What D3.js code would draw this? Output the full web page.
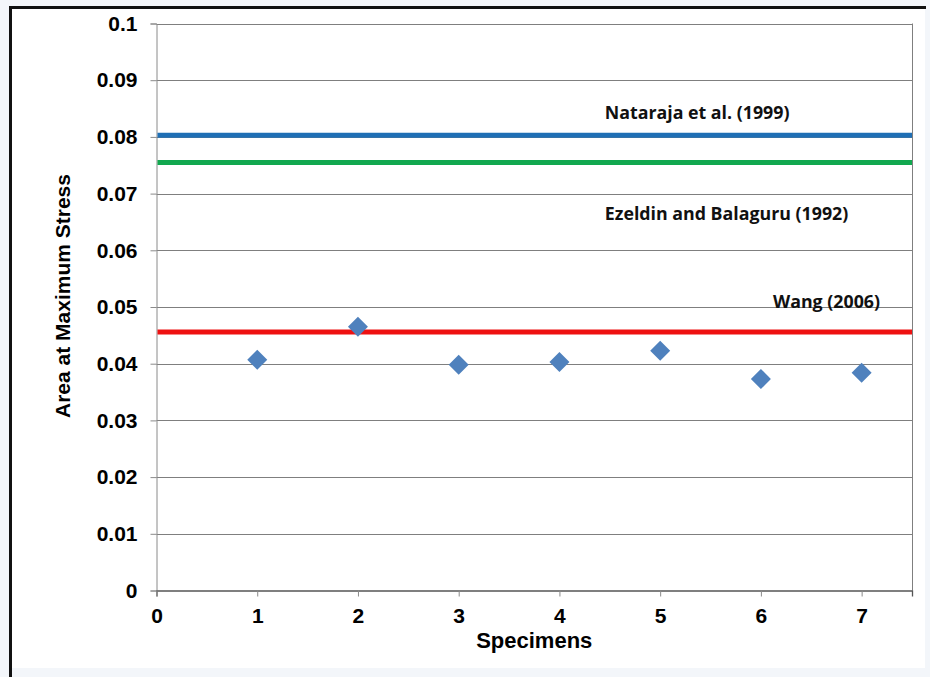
<!DOCTYPE html>
<html>
<head>
<meta charset="utf-8">
<script src="https://cdn.jsdelivr.net/npm/d3@7"></script>
<style>
  html, body { margin: 0; padding: 0; background: #ffffff; }
  svg { display: block; }
</style>
</head>
<body>
<svg id="chart" width="930" height="677"></svg>
<script>
// Specimen results
const specimens = [1, 2, 3, 4, 5, 6, 7];
const areaAtMaxStress = [0.0407, 0.0465, 0.0398, 0.0403, 0.0423, 0.0373, 0.0384];

// Reference values from the literature
const refNames = ["Nataraja et al. (1999)", "Ezeldin and Balaguru (1992)", "Wang (2006)"];
const refValues = [0.0803, 0.0755, 0.0456];
const refColors = ["#1f6fb5", "#12a84f", "#ee1111"];

// Axis ticks
const xTicks = [0, 1, 2, 3, 4, 5, 6, 7];
const yTicks = [0, 0.01, 0.02, 0.03, 0.04, 0.05, 0.06, 0.07, 0.08, 0.09, 0.1];
const yTickLabels = ["0", "0.01", "0.02", "0.03", "0.04", "0.05", "0.06", "0.07", "0.08", "0.09", "0.1"];

const svg = d3.select("#chart");
const W = 930, H = 677;
const plot = { left: 156.5, right: 912, top: 23.5, bottom: 590.5 };
const sans = "'Liberation Sans', Arial, sans-serif";

// Page frame: faint tint at the edges, black rules on top and left
svg.append("rect").attr("x", 0).attr("y", 0).attr("width", W).attr("height", H).attr("fill", "#f3f6fa");
svg.append("rect").attr("x", 10).attr("y", 7).attr("width", 915).attr("height", 661).attr("fill", "#ffffff");
svg.append("line").attr("x1", 10).attr("x2", 926).attr("y1", 7.5).attr("y2", 7.5)
  .attr("stroke", "#111").attr("stroke-width", 3);
svg.append("line").attr("x1", 10.5).attr("x2", 10.5).attr("y1", 6).attr("y2", H)
  .attr("stroke", "#111").attr("stroke-width", 3);

const x = d3.scaleLinear().domain([0, 7.5]).range([plot.left, plot.right]);
const y = d3.scaleLinear().domain([0, 0.1]).range([plot.bottom, plot.top]);

// Horizontal gridlines
svg.append("g")
  .selectAll("line")
  .data(yTicks.filter(d => d > 0))
  .join("line")
  .attr("x1", plot.left).attr("x2", plot.right)
  .attr("y1", d => Math.round(y(d)) + 0.5).attr("y2", d => Math.round(y(d)) + 0.5)
  .attr("stroke", "#7f7f7f").attr("stroke-width", 1);

// Right edge of the plot area
svg.append("line")
  .attr("x1", plot.right + 0.5).attr("x2", plot.right + 0.5)
  .attr("y1", y(0.1)).attr("y2", y(0))
  .attr("stroke", "#7f7f7f").attr("stroke-width", 1);

// Y axis
const yAxis = d3.axisLeft(y)
  .tickValues(yTicks)
  .tickFormat((d, i) => yTickLabels[i])
  .tickSize(6)
  .tickPadding(13);
const gy = svg.append("g").attr("transform", `translate(${plot.left},0)`).call(yAxis);
gy.select(".domain").attr("stroke", "#8a8a8a");
gy.selectAll(".tick line").attr("stroke", "#8a8a8a");
gy.selectAll("text")
  .attr("font-family", sans)
  .attr("font-weight", "bold").attr("font-size", 21).attr("fill", "#000");

// X axis
const xAxis = d3.axisBottom(x)
  .tickValues(xTicks)
  .tickFormat(d3.format("d"))
  .tickSize(6)
  .tickPadding(12);
const gx = svg.append("g").attr("transform", `translate(0,${plot.bottom})`).call(xAxis);
gx.select(".domain").attr("stroke", "#555").attr("stroke-width", 1.3);
gx.selectAll(".tick line").attr("stroke", "#8a8a8a");
gx.selectAll("text")
  .attr("font-family", sans)
  .attr("font-weight", "bold").attr("font-size", 21).attr("fill", "#000");

// Reference lines
svg.append("g")
  .selectAll("line")
  .data(refValues)
  .join("line")
  .attr("x1", plot.left + 1).attr("x2", plot.right)
  .attr("y1", d => y(d)).attr("y2", d => y(d))
  .attr("stroke", (d, i) => refColors[i])
  .attr("stroke-width", 5);

// Reference labels
const labelPos = [
  { x: x(4.45), dy: -16 },
  { x: x(4.45), dy: 58 },
  { x: x(6.12), dy: -24 }
];
svg.append("g")
  .selectAll("text")
  .data(refNames)
  .join("text")
  .attr("x", (d, i) => labelPos[i].x)
  .attr("y", (d, i) => y(refValues[i]) + labelPos[i].dy)
  .attr("font-family", "'Open Sans', Lato, sans-serif")
  .attr("font-weight", "bold")
  .attr("font-size", 17.8)
  .attr("fill", "#111")
  .text(d => d);

// Specimen markers (diamonds)
svg.append("g")
  .selectAll("path")
  .data(specimens)
  .join("path")
  .attr("d", d3.symbol().type(d3.symbolSquare).size(200))
  .attr("transform", (d, i) => `translate(${x(d)},${y(areaAtMaxStress[i])}) rotate(45)`)
  .attr("fill", "#4f81bd");

// Axis titles
svg.append("text")
  .attr("x", (plot.left + plot.right) / 2)
  .attr("y", 648)
  .attr("text-anchor", "middle")
  .attr("font-family", sans)
  .attr("font-weight", "bold").attr("font-size", 22)
  .text("Specimens");

svg.append("text")
  .attr("transform", `translate(70,296) rotate(-90)`)
  .attr("text-anchor", "middle")
  .attr("font-family", sans)
  .attr("font-weight", "bold").attr("font-size", 21)
  .text("Area at Maximum Stress");
</script>
</body>
</html>
